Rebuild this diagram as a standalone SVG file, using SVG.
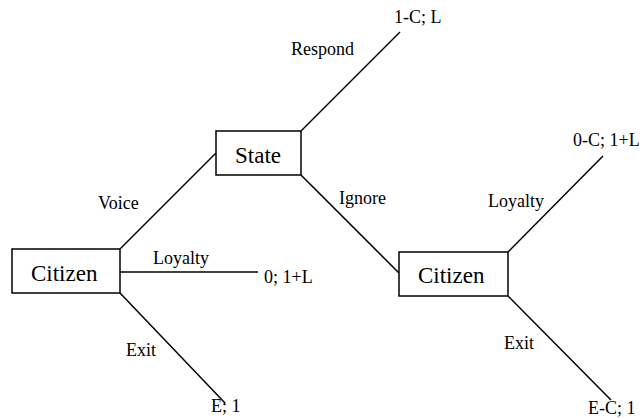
<svg xmlns="http://www.w3.org/2000/svg" width="643" height="419" viewBox="0 0 643 419">
<style>
.box{fill:#fff;stroke:#000;stroke-width:1.5}
.e{stroke:#000;stroke-width:1.5;fill:none}
.big{font-family:"Liberation Serif","Times New Roman",serif;font-size:23px;fill:#000}
.sm{font-family:"Liberation Serif","Times New Roman",serif;font-size:18px;fill:#000}
</style>
<rect width="643" height="419" fill="#fff"/>
<g id="connectors">
<line class="e" x1="120" y1="249" x2="216" y2="153"/>
<line class="e" x1="120" y1="272" x2="258" y2="272"/>
<line class="e" x1="120" y1="293" x2="225" y2="403"/>
<line class="e" x1="301" y1="131" x2="400" y2="32"/>
<line class="e" x1="301" y1="175" x2="399" y2="273"/>
<line class="e" x1="508" y1="252" x2="603" y2="156"/>
<line class="e" x1="508" y1="296" x2="611" y2="400"/>
<text class="sm" x="98" y="209">Voice</text>
<text class="sm" x="153" y="264">Loyalty</text>
<text class="sm" x="126" y="356">Exit</text>
<text class="sm" x="291" y="55">Respond</text>
<text class="sm" x="339" y="204">Ignore</text>
<text class="sm" x="488" y="207">Loyalty</text>
<text class="sm" x="504" y="349">Exit</text>
</g>
<g id="citizen1">
<rect class="box" x="12" y="249" width="108" height="44"/>
<text class="big" x="31" y="281">Citizen</text>
</g>
<g id="state">
<rect class="box" x="216" y="131" width="85" height="44"/>
<text class="big" x="235" y="163">State</text>
</g>
<g id="citizen2">
<rect class="box" x="399" y="252" width="109" height="44"/>
<text class="big" x="418" y="283">Citizen</text>
</g>
<g id="payoff-respond"><text class="sm" x="394" y="23">1-C; L</text></g>
<g id="payoff-loyalty1"><text class="sm" x="264" y="283">0; 1+L</text></g>
<g id="payoff-exit1"><text class="sm" x="211" y="412">E; 1</text></g>
<g id="payoff-loyalty2"><text class="sm" x="573" y="146">0-C; 1+L</text></g>
<g id="payoff-exit2"><text class="sm" x="588" y="414">E-C; 1</text></g>
</svg>
